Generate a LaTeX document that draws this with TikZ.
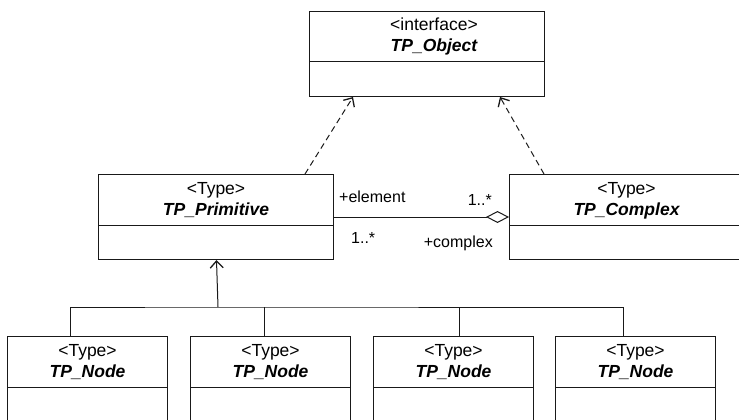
\documentclass[tikz,border=0pt]{standalone}
\usepackage{fontspec}
\setmainfont{Liberation Sans}
\usetikzlibrary{arrows.meta,calc}

\tikzset{
  ink/.style={draw=black!90, line width=1pt},
  cls/.style={ink, rectangle, inner sep=0pt, anchor=north west},
  stereo/.style={font=\fontsize{17.5}{20}\selectfont, anchor=base, inner sep=0pt},
  cname/.style={font=\fontsize{17.5}{20}\selectfont\bfseries\itshape, anchor=base, inner sep=0pt},
  role/.style={font=\fontsize{16}{19}\selectfont, inner sep=0pt},
  realize/.style={ink, dash pattern=on 6pt off 4pt, -{Straight Barb[length=7pt,width=13pt,line width=1.3pt]}},
  generalize/.style={ink, -{Straight Barb[length=7pt,width=13pt,line width=1.3pt]}},
  aggregate/.style={ink, -{Diamond[open,length=23pt,width=12pt,fill=white]}},
}

\begin{document}
\begin{tikzpicture}[x=1pt,y=-1pt]
  \useasboundingbox (0,0) rectangle (739,420);
  \clip (0,0) rectangle (739,420);

  % class boxes
  \node[cls, minimum width=235, minimum height=85] (obj) at (309,11) {};
  \node[cls, minimum width=235, minimum height=85] (prim) at (98,174) {};
  \node[cls, minimum width=235, minimum height=85] (cplx) at (509,174) {};
  \node[cls, minimum width=160, minimum height=100] (n1) at (7,336) {};
  \node[cls, minimum width=160, minimum height=100] (n2) at (190,336) {};
  \node[cls, minimum width=160, minimum height=100] (n3) at (373,336) {};
  \node[cls, minimum width=160, minimum height=100] (n4) at (555,336) {};

  % compartment dividers
  \foreach \b in {obj,prim,cplx,n1,n2,n3,n4}
    \draw[ink] ([yshift=-51pt]\b.north west) -- ([yshift=-51pt]\b.north east);

  % class headings
  \node[stereo] (objS) at ([xshift=7pt,yshift=-20pt]obj.north) {<interface>};
  \node[cname]  (objN) at ([xshift=7pt,yshift=-41pt]obj.north) {TP\_Object};
  \node[stereo] (primS) at ([yshift=-20pt]prim.north) {<Type>};
  \node[cname]  (primN) at ([yshift=-41pt]prim.north) {TP\_Primitive};
  \node[stereo] (cplxS) at ([xshift=-0.5pt,yshift=-20pt]cplx.north) {<Type>};
  \node[cname]  (cplxN) at ([xshift=-0.5pt,yshift=-41pt]cplx.north) {TP\_Complex};
  \foreach \b in {n1,n2,n3,n4}{
    \node[stereo] (\b S) at ([yshift=-20pt]\b.north) {<Type>};
    \node[cname]  (\b N) at ([yshift=-41pt]\b.north) {TP\_Node};
  }

  % realization of the interface
  \draw[realize] ([xshift=-29pt]prim.north east) -- ([xshift=44pt]obj.south west);
  \draw[realize] ([xshift=35pt]cplx.north west) -- ([xshift=-45pt]obj.south east);

  % aggregation with role names and multiplicities
  \draw[aggregate] (prim.east) -- (cplx.west);
  \node[role, anchor=base west] (rElem) at ($(prim.east)+(5,-15)$) {+element};
  \node[role, anchor=base east] (mElem) at ($(cplx.west)+(-17,-11.5)$) {1..*};
  \node[role, anchor=base west] (mCplx) at ($(prim.east)+(17,26.5)$) {1..*};
  \node[role, anchor=base east] (rCplx) at ($(cplx.west)+(-16,30.5)$) {+complex};

  % generalization tree
  \coordinate (bus) at (218,307);
  \draw[ink] ([xshift=-17pt]n1.north) |- (bus) -| ([xshift=-12pt]n4.north);
  \draw[ink] ([xshift=-6pt]n2.north) -- ([xshift=-6pt]n2.north |- bus);
  \draw[ink] ([xshift=5.5pt]n3.north) -- ([xshift=5.5pt]n3.north |- bus);
  \draw[generalize] (bus) -- ([xshift=0.5pt]prim.south);
\end{tikzpicture}
\end{document}
